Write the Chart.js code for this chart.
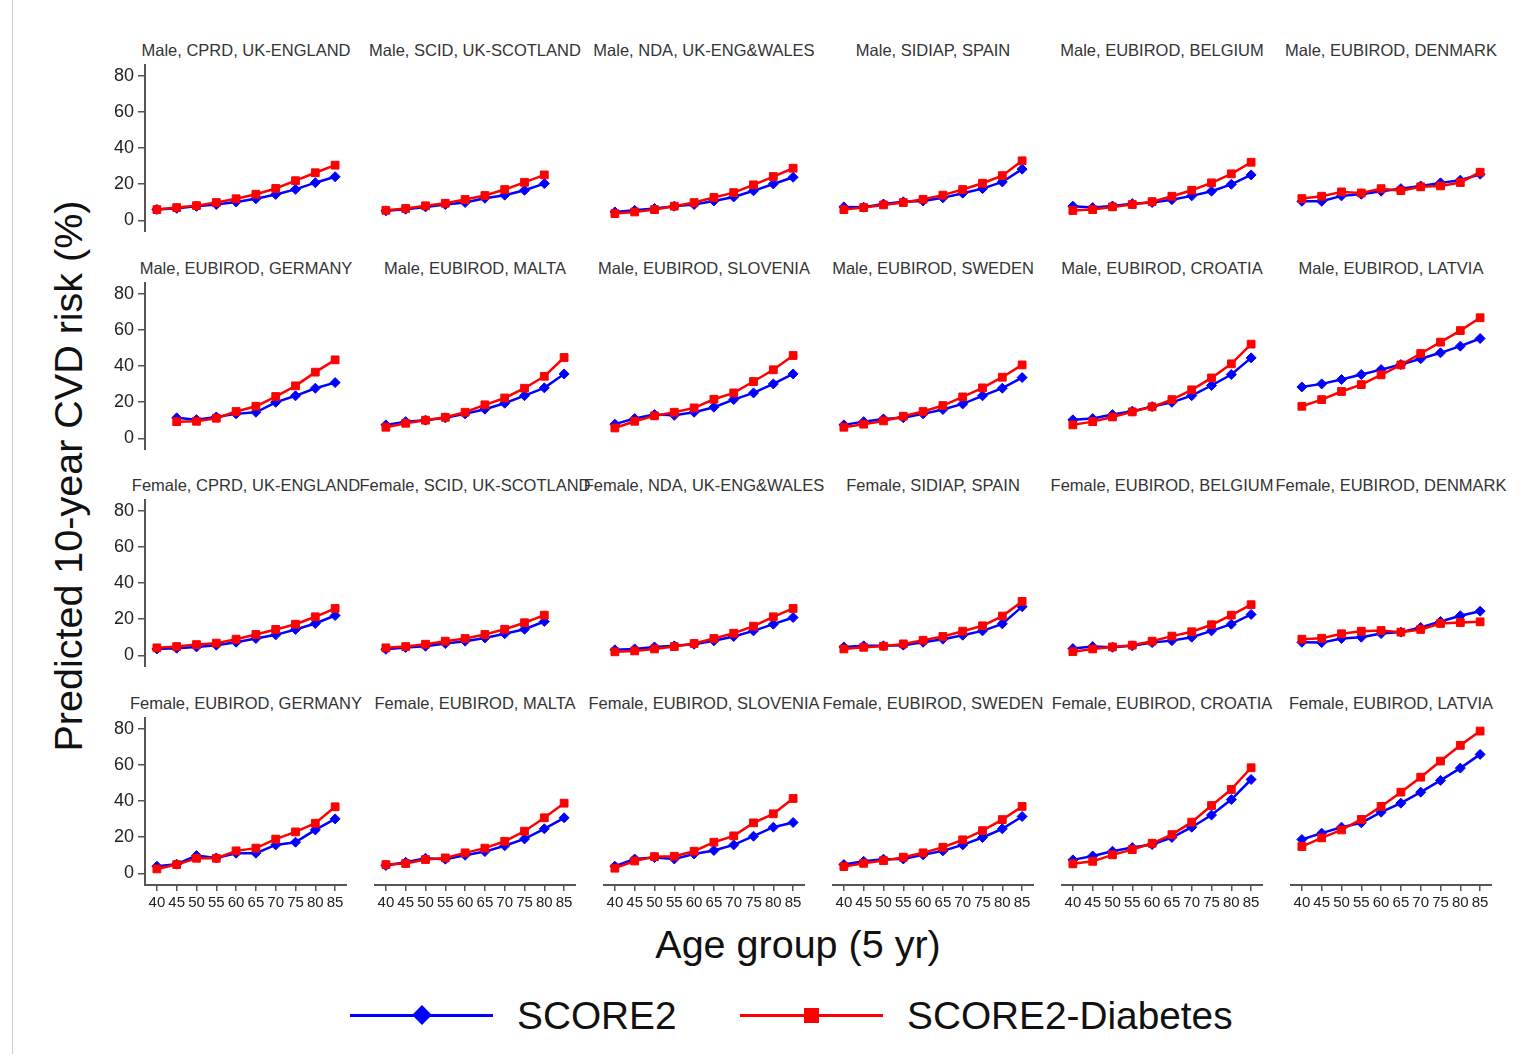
<!DOCTYPE html>
<html>
<head>
<meta charset="utf-8">
<title>Predicted 10-year CVD risk by age group</title>
<script src="https://cdn.jsdelivr.net/npm/chart.js@4.4.0/dist/chart.umd.min.js"></script>
<style>
  body { margin: 0; background: #fff; font-family: "Liberation Sans", Arial, sans-serif; }
  #wrap { position: relative; width: 1537px; height: 1054px; overflow: hidden; }
  #wrap canvas { position: absolute; }
  .edge { position: absolute; left: 12px; top: 0; width: 1px; height: 1054px; background: #d0d0d0; }
  .ptitle { position: absolute; white-space: nowrap; transform: translateX(-50%); font-size: 16.5px; line-height: 20px; color: #333; }
  .ytitle { position: absolute; left: 68px; top: 476px; white-space: nowrap; font-size: 39.5px; line-height: 40px; color: #111;
            transform: translate(-50%, -50%) rotate(-90deg); }
  .xtitle { position: absolute; left: 798px; top: 924px; white-space: nowrap; font-size: 39.5px; line-height: 40px; color: #111;
            transform: translateX(-50%); }
  .lg-line { position: absolute; height: 3px; }
  .lg-mark { position: absolute; }
  .lg-text { position: absolute; font-size: 38.8px; line-height: 40px; color: #111; white-space: nowrap; }
</style>
</head>
<body>
<div id="wrap">
  <div class="edge"></div>
  <div class="ytitle">Predicted 10-year CVD risk (%)</div>
  <div class="xtitle">Age group (5 yr)</div>

  <div class="lg-line" style="left:350px; top:1014px; width:143px; background:#0000ff;"></div>
  <div class="lg-mark" style="left:415px; top:1008px; width:14px; height:14px; background:#0000ff; transform:rotate(45deg);"></div>
  <div class="lg-text" style="left:517px; top:996px;">SCORE2</div>
  <div class="lg-line" style="left:740px; top:1014px; width:143px; background:#ff0000;"></div>
  <div class="lg-mark" style="left:804px; top:1008px; width:15px; height:15px; background:#ff0000;"></div>
  <div class="lg-text" style="left:907px; top:996px;">SCORE2-Diabetes</div>
</div>

<script>
'use strict';

// x categories (age groups) and y ticks
const ages = [40, 45, 50, 55, 60, 65, 70, 75, 80, 85];
const yTicks = [0, 20, 40, 60, 80];

// one entry per panel, same order for male and female
const cohorts = [
    'CPRD, UK-ENGLAND', 'SCID, UK-SCOTLAND', 'NDA, UK-ENG&WALES', 'SIDIAP, SPAIN',
    'EUBIROD, BELGIUM', 'EUBIROD, DENMARK', 'EUBIROD, GERMANY', 'EUBIROD, MALTA',
    'EUBIROD, SLOVENIA', 'EUBIROD, SWEDEN', 'EUBIROD, CROATIA', 'EUBIROD, LATVIA'
];

// SCORE2 (blue) - male
const maleScore2 = [
    [6, 6.6, 7.7, 8.7, 10.1, 11.9, 14.3, 17.1, 20.8, 24.1],
    [5.2, 6.1, 7.4, 8.7, 9.8, 12.2, 13.9, 16.6, 20.3, null],
    [4.6, 5.5, 6.5, 7.8, 8.7, 10.7, 12.9, 16.3, 20.1, 23.8],
    [7.4, 7.2, 9, 10.2, 10.7, 12.4, 15, 17.5, 21.2, 28.3],
    [7.8, 7, 7.9, 9.2, 9.8, 11.4, 13.5, 16.1, 19.9, 25.1],
    [10.5, 10.5, 13.5, 14.4, 16.1, 17.5, 19, 20.7, 22.2, 25.5],
    [null, 11.3, 10.3, 11.8, 13.5, 14.4, 19.9, 23.5, 27.7, 30.8],
    [7.4, 9.2, 10, 11.3, 13.5, 16.1, 19.4, 23.6, 27.9, 35.6],
    [7.8, 10.9, 13.1, 12.7, 14.4, 17.2, 21.4, 25.1, 30.1, 35.6],
    [7.4, 9.2, 10.7, 11.4, 13.5, 15.9, 19, 23.5, 27.7, 33.6],
    [10.2, 10.9, 13.1, 15, 17.5, 19.9, 23.6, 29.2, 35.3, 44.5],
    [28.4, 30.1, 32.5, 35.3, 38, 40.8, 44, 47.3, 51, 55.2]
];

// SCORE2-Diabetes (red) - male
const maleScore2Diab = [
    [5.9, 7, 8.1, 9.8, 11.9, 14.4, 17.6, 21.9, 26.3, 30.5],
    [5.5, 6.5, 8, 9.4, 11.5, 13.7, 17, 21, 25.1, null],
    [3.7, 4.6, 5.9, 7.8, 9.8, 12.6, 15.3, 19.6, 24.2, 28.8],
    [5.9, 7, 8.5, 9.8, 11.6, 13.9, 17, 20.5, 24.7, 32.9],
    [5.4, 5.9, 7.4, 8.7, 10.3, 13.3, 16.6, 20.7, 25.7, 32.1],
    [12, 13.3, 15.7, 15.1, 17.5, 16.4, 18.5, 19, 20.9, 26.6],
    [null, 9.2, 9.4, 11.1, 14.8, 17.7, 23.1, 29, 36.6, 43.4],
    [6.1, 8.3, 10, 11.6, 14.4, 18.5, 22.3, 27.7, 34.3, 44.7],
    [5.7, 9.4, 12.4, 14.4, 16.8, 21.6, 25.1, 31.4, 37.9, 45.8],
    [6.1, 7.8, 9.6, 12.2, 14.8, 18.1, 22.9, 27.9, 33.8, 40.6],
    [7.4, 9.2, 11.8, 14.6, 17.4, 21.4, 26.8, 33.4, 41.2, 52.1],
    [17.7, 21.4, 25.9, 29.7, 35.1, 40.6, 46.9, 53.2, 59.6, 66.7]
];

// SCORE2 (blue) - female
const femaleScore2 = [
    [3.5, 3.9, 4.6, 5.6, 7.2, 9.3, 11.3, 14.3, 17.6, 22],
    [3.3, 4.3, 5, 6.5, 7.8, 9.6, 11.9, 14.4, 18.7, null],
    [3, 3.5, 4.6, 5.2, 6.1, 8, 10.4, 13.5, 17.2, 20.9],
    [4.6, 5.2, 5.2, 5.6, 7.2, 8.9, 11.1, 13.5, 17.4, 26.9],
    [3.7, 4.8, 4.4, 5.2, 7, 8.1, 10, 13.5, 17.2, 22.6],
    [7.2, 7, 9.3, 10, 12, 12.8, 15.4, 18.7, 21.9, 24.4],
    [3.9, 5, 9.8, 8.5, 11.1, 11.1, 15.7, 17.2, 24, 30.1],
    [4.3, 6.1, 8.3, 7.8, 10, 12, 15.2, 19, 24.6, 30.7],
    [3.9, 7.9, 8.7, 7.9, 10.7, 12.6, 15.7, 20.5, 25.5, 28.1],
    [4.8, 6.6, 7.8, 7.9, 10.2, 12.4, 15.7, 19.8, 24.6, 31.4],
    [7.4, 9.6, 12.2, 14.2, 15.9, 19.8, 25.5, 32.2, 40.8, 51.9],
    [18.7, 22.2, 25.5, 27.9, 33.8, 38.8, 44.9, 51.4, 58.2, 65.8]
];

// SCORE2-Diabetes (red) - female
const femaleScore2Diab = [
    [4.1, 4.8, 5.9, 6.7, 8.9, 11.5, 14.3, 17.2, 21.3, 25.9],
    [4.1, 4.8, 6.1, 7.8, 9.3, 11.5, 14.4, 18, 22.2, null],
    [1.9, 2.4, 3.5, 4.8, 6.5, 9.3, 12.2, 16.1, 21.3, 25.9],
    [3.5, 4.4, 5, 6.3, 8.3, 10.4, 13.3, 16.3, 21.7, 29.8],
    [2, 3.5, 4.6, 5.6, 7.8, 10.6, 13, 16.9, 22.2, 28],
    [8.9, 9.4, 11.9, 13.3, 13.7, 12.8, 14.3, 17.6, 18.1, 18.5],
    [2.4, 4.8, 8.3, 8.3, 12.4, 13.9, 18.9, 22.9, 27.7, 36.8],
    [4.8, 5.4, 7.6, 8.5, 11.3, 13.9, 17.7, 23.3, 30.7, 38.8],
    [2.8, 6.8, 9.2, 9.4, 12.2, 17.2, 20.7, 27.9, 32.9, 41.4],
    [3.7, 5.5, 7, 8.9, 11.3, 14.4, 18.5, 23.6, 29.7, 37],
    [5.2, 6.6, 10.2, 13.1, 16.6, 21.4, 28.3, 37.5, 46.4, 58.4],
    [14.8, 19.6, 24, 29.8, 37, 44.9, 53.2, 62.1, 70.8, 78.7]
];

// panel geometry
const plotW = 202, plotH = 168;
const yAxisW = 60, xAxisH = 40;
const colStep = 229, rowStep = 217.5;
const firstLeft = 145, firstTop = 64;
const axisColor = '#555';
const tickFont = { family: '"Liberation Sans", Arial, sans-serif' };

const wrap = document.getElementById('wrap');

const toPoints = vals => ages.map((a, i) => ({ x: a, y: vals[i] }));

// fixed axis sizes, no extra padding so every plot area lines up
const fixSize = (s, w, h) => {
    if (w !== null) s.width = w;
    if (h !== null) s.height = h;
    s.paddingTop = 0; s.paddingBottom = 0;
    s.paddingLeft = 0; s.paddingRight = 0;
};

const makePanel = (idx, title, blue, red) => {
    const r = Math.floor(idx / 6);
    const c = idx % 6;
    const showY = c === 0;
    const showX = r === 3;
    const left = Math.round(firstLeft + c * colStep);
    const top = Math.round(firstTop + r * rowStep);

    const t = document.createElement('div');
    t.className = 'ptitle';
    t.style.left = (left + plotW / 2) + 'px';
    t.style.top = (top - 24) + 'px';
    t.textContent = title;
    wrap.appendChild(t);

    const canvas = document.createElement('canvas');
    canvas.width = plotW + (showY ? yAxisW : 0);
    canvas.height = plotH + (showX ? xAxisH : 0);
    canvas.style.left = (left - (showY ? yAxisW : 0)) + 'px';
    canvas.style.top = top + 'px';
    wrap.appendChild(canvas);

    new Chart(canvas, {
        type: 'line',
        data: {
            datasets: [
                {
                    label: 'SCORE2',
                    data: toPoints(blue),
                    borderColor: '#0000ff',
                    backgroundColor: '#0000ff',
                    borderWidth: 2.5,
                    pointStyle: 'rectRot',
                    pointRadius: 5,
                    pointBorderWidth: 1,
                    order: 2
                },
                {
                    label: 'SCORE2-Diabetes',
                    data: toPoints(red),
                    borderColor: '#ff0000',
                    backgroundColor: '#ff0000',
                    borderWidth: 2.5,
                    pointStyle: 'rect',
                    pointRadius: 5.5,
                    pointBorderWidth: 1,
                    order: 1
                }
            ]
        },
        options: {
            responsive: false,
            animation: false,
            events: [],
            layout: { padding: 0, autoPadding: false },
            plugins: { legend: { display: false }, tooltip: { enabled: false } },
            scales: {
                x: {
                    type: 'linear',
                    min: 37,
                    max: 88,
                    display: showX,
                    afterBuildTicks: s => { s.ticks = ages.map(v => ({ value: v })); },
                    afterFit: s => fixSize(s, null, showX ? xAxisH : 0),
                    ticks: { autoSkip: false, maxRotation: 0, padding: 3, color: '#222', font: { ...tickFont, size: 15 } },
                    grid: { drawOnChartArea: false, drawTicks: true, tickLength: 6, color: axisColor, lineWidth: 1.5 },
                    border: { display: true, color: axisColor, width: 2 }
                },
                y: {
                    type: 'linear',
                    min: -6.5,
                    max: 86.5,
                    display: showY,
                    afterBuildTicks: s => { s.ticks = yTicks.map(v => ({ value: v })); },
                    afterFit: s => fixSize(s, showY ? yAxisW : 0, null),
                    ticks: { padding: 4, color: '#222', font: { ...tickFont, size: 18 } },
                    grid: { drawOnChartArea: false, drawTicks: true, tickLength: 7, color: axisColor, lineWidth: 1.5 },
                    border: { display: true, color: axisColor, width: 2 }
                }
            }
        }
    });
};

cohorts.forEach((name, i) => makePanel(i, 'Male, ' + name, maleScore2[i], maleScore2Diab[i]));
cohorts.forEach((name, i) => makePanel(12 + i, 'Female, ' + name, femaleScore2[i], femaleScore2Diab[i]));
</script>
</body>
</html>
